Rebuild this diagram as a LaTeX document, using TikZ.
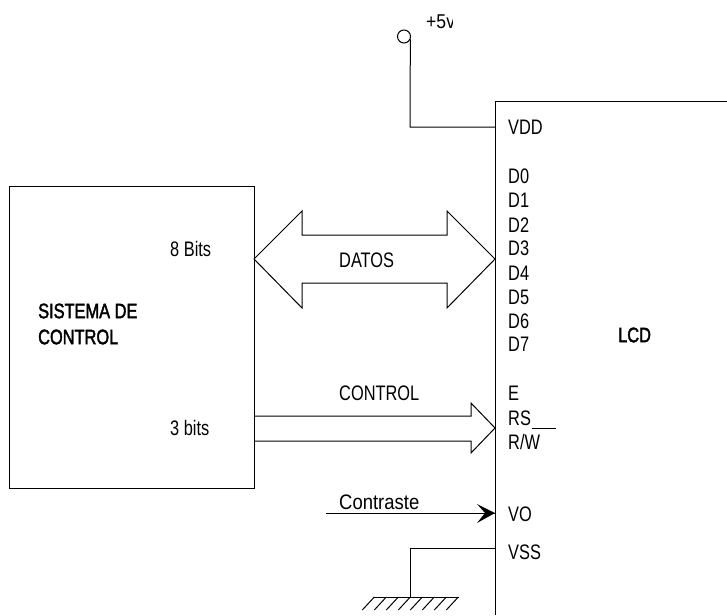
\documentclass[tikz,border=0pt]{standalone}
\usepackage{fontspec}
\setmainfont[FakeStretch=0.78]{Liberation Sans}
\newfontfamily\titlefont[FakeStretch=0.78,FakeBold=2]{Liberation Sans}
\newfontfamily\widefont[FakeStretch=0.88]{Liberation Sans}
\tikzset{
  wire/.style={line width=1pt},
  pin/.style={anchor=west,inner sep=0pt,font=\fontsize{21}{21}\selectfont},
  txt/.style={anchor=west,inner sep=0pt,font=\fontsize{21}{21}\selectfont},
  heading/.style={anchor=west,inner sep=0pt,font=\titlefont\fontsize{21}{21}\selectfont}
}
\begin{document}
\begin{tikzpicture}[x=1pt,y=-1pt]
    \useasboundingbox (0,0) rectangle (727,615);
    %\draw[help lines] (0,0) grid (727,615);
    \node[draw,wire,minimum width=245,minimum height=302,inner sep=0pt] (sistema) at (131.5,337) {};
    \coordinate (lcdtop) at (727,102);
    \coordinate (lcdcorner) at (495,102);
    \coordinate (lcdbot) at (495,615);
    \draw[wire] (lcdtop) -- (lcdcorner) -- (lcdbot);
    % supply
    \node[draw,wire,circle,minimum size=13,inner sep=0pt] (vcc) at (404,36.5) {};
    \coordinate (vddcorner) at (410,127);
    \coordinate (vddpin) at (495,127);
    \draw[wire] (vcc.-25) -- (vddcorner) -- (vddpin);
    \begin{scope}
        \clip (420,10) rectangle (452,35);
        \node[txt] (volt) at (426,22) {\widefont\fontsize{20}{20}\selectfont +5v};
    \end{scope}
    % pins
    \node[pin] (vdd) at (508,127) {VDD};
    \node[pin] (d0) at (508,176) {D0};
    \node[pin] (d1) at (508,200) {D1};
    \node[pin] (d2) at (508,225) {D2};
    \node[pin] (d3) at (508,248) {D3};
    \node[pin] (d4) at (508,273) {D4};
    \node[pin] (d5) at (508,297) {D5};
    \node[pin] (d6) at (508,321) {D6};
    \node[pin] (d7) at (508,344) {D7};
    \node[pin] (e) at (508,393) {E};
    \node[pin] (rs) at (508,418) {RS};
    \node[pin] (rw) at (508,442) {R/W};
    \node[pin] (vo) at (508,514) {VO};
    \node[pin] (vss) at (508,552) {VSS};
    \coordinate (barl) at (532,428);
    \coordinate (barr) at (556,428);
    \draw[wire] (barl) -- (barr);
    % other texts
    \node[heading] (lcd) at (618,335) {LCD};
    \node[heading] (sis) at (38,311) {SISTEMA DE};
    \node[heading] (con) at (38,337) {CONTROL};
    \node[txt] (ocho) at (170,249) {8 Bits};
    \node[txt] (tres) at (170,428) {3 bits};
    \node[txt] (datos) at (339,260) {DATOS};
    \node[txt] (control) at (339,393) {CONTROL};
    \node[txt] (contraste) at (339,502) {\widefont Contraste};
    % data bus
    \coordinate (a) at (254,259);
    \coordinate (b) at (302,211);
    \coordinate (c) at (302,235);
    \coordinate (d) at (447,235);
    \coordinate (e1) at (447,211);
    \coordinate (f) at (495,259);
    \coordinate (g) at (447,308);
    \coordinate (h) at (447,283);
    \coordinate (i) at (302,283);
    \coordinate (j) at (302,308);
    \draw[wire] (a) -- (b) -- (c) -- (d) -- (e1) -- (f) -- (g) -- (h) -- (i) -- (j) -- cycle;
    % control bus
    \coordinate (k) at (254,416);
    \coordinate (l) at (471,416);
    \coordinate (m) at (471,403);
    \coordinate (n) at (495,428);
    \coordinate (o) at (471,453);
    \coordinate (p) at (471,441);
    \coordinate (q) at (254,441);
    \draw[wire] (k) -- (l) -- (m) -- (n) -- (o) -- (p) -- (q);
    % contrast
    \coordinate (cin) at (326,513);
    \coordinate (cpin) at (495,513);
    \coordinate (cbarbt) at (477,504);
    \coordinate (cnotch) at (485,513);
    \coordinate (cbarbb) at (477,523);
    \draw[wire] (cin) -- (cpin);
    \fill (cpin) -- (cbarbt) -- (cnotch) -- (cbarbb) -- cycle;
    % ground
    \coordinate (vsspin) at (495,548);
    \coordinate (vsscorner) at (410,548);
    \coordinate (gnd) at (410,597);
    \coordinate (gndl) at (374,597);
    \coordinate (gndr) at (459,597);
    \draw[wire] (vsspin) -- (vsscorner) -- (gnd);
    \draw[wire] (gndl) -- (gndr);
    \foreach \k in {0,...,7}
        \draw[wire] (374.3+12*\k,597) -- ++(-12,13);
\end{tikzpicture}
\end{document}
